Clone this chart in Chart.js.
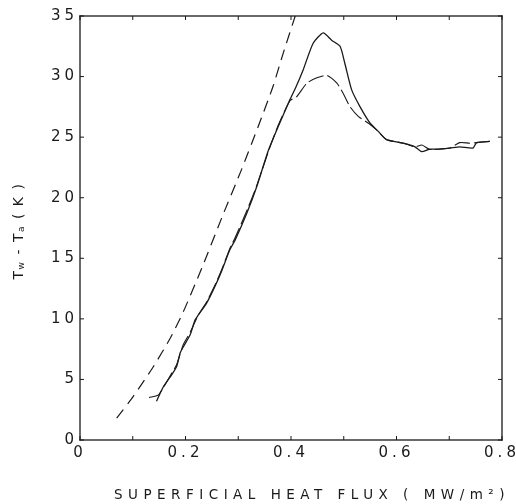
<!DOCTYPE html>
<html>
<head>
<meta charset="utf-8">
<script src="https://cdn.jsdelivr.net/npm/chart.js@4.4.0/dist/chart.umd.min.js"></script>
<style>
  html, body { margin: 0; padding: 0; background: #fff; }
</style>
</head>
<body>
<canvas id="heatChart" width="516" height="504"></canvas>
<script>
// tick labels
const xTickLabels = [0, 0.2, 0.4, 0.6, 0.8];
const yTickLabels = [0, 5, 10, 15, 20, 25, 30, 35];

// model curve (short dashes)
const modelFlux = [0.0695, 0.101, 0.139, 0.171, 0.196, 0.231, 0.272, 0.306, 0.338, 0.366, 0.385, 0.408];
const modelTemp = [1.8, 3.6, 6.05, 8.4, 10.6, 14.2, 18.7, 22.3, 25.9, 29.2, 31.9, 35.0];

// measured, solid line
const solidFlux = [0.145, 0.158, 0.171, 0.183, 0.190, 0.196, 0.209, 0.218, 0.224, 0.240, 0.256, 0.269, 0.284,
  0.294, 0.316, 0.335, 0.357, 0.376, 0.398, 0.410, 0.423, 0.442, 0.461, 0.477, 0.493, 0.502, 0.515, 0.531,
  0.550, 0.565, 0.581, 0.613, 0.635, 0.648, 0.662, 0.676, 0.701, 0.720, 0.745, 0.752, 0.777];
const solidTemp = [3.2, 4.4, 5.2, 6.05, 7.2, 7.7, 8.7, 9.9, 10.3, 11.3, 12.7, 14.0, 15.7,
  16.5, 18.7, 20.9, 23.9, 25.9, 28.1, 29.2, 30.55, 32.75, 33.6, 33.0, 32.5, 31.1, 28.9, 27.5,
  26.15, 25.5, 24.8, 24.5, 24.2, 23.8, 24.0, 24.0, 24.1, 24.2, 24.1, 24.55, 24.65];

// measured, long dashes
const dashFlux = [0.131, 0.148, 0.155, 0.171, 0.183, 0.196, 0.209, 0.224, 0.240, 0.256, 0.269, 0.284,
  0.294, 0.316, 0.335, 0.357, 0.376, 0.398, 0.411, 0.430, 0.449, 0.468, 0.487, 0.499, 0.512, 0.528,
  0.547, 0.562, 0.581, 0.613, 0.635, 0.648, 0.662, 0.676, 0.701, 0.720, 0.739, 0.752, 0.777];
const dashTemp = [3.5, 3.7, 4.1, 5.3, 6.2, 7.9, 8.9, 10.3, 11.4, 12.8, 14.1, 15.8,
  16.7, 18.9, 21.0, 23.8, 26.0, 28.0, 28.35, 29.45, 29.9, 30.1, 29.45, 28.6, 27.5, 26.7,
  26.15, 25.6, 24.8, 24.5, 24.2, 24.35, 24.0, 24.0, 24.1, 24.55, 24.5, 24.55, 24.65];

const ink = '#1a1a1a';

const toPoints = (xs, ys) => xs.map((x, i) => ({ x: x, y: ys[i] }));

// letter spacing for the tick text, like the old lettering
const spacing = {
  id: 'spacing',
  beforeLayout(chart) { chart.ctx.letterSpacing = '4px'; },
  beforeDraw(chart) { chart.ctx.letterSpacing = '4px'; }
};

// box, inward ticks and the two axis titles
const boxPlugin = {
  id: 'boxPlugin',
  afterDraw(chart) {
    const c = chart.ctx;
    const a = chart.chartArea;
    const xs = chart.scales.x;
    const ys = chart.scales.y;
    const lw = 1.3;
    c.save();
    c.fillStyle = ink;
    // frame
    c.fillRect(a.left - lw / 2, a.top - lw / 2, a.right - a.left + lw, lw);
    c.fillRect(a.left - lw / 2, a.bottom - lw / 2, a.right - a.left + lw, lw);
    c.fillRect(a.left - lw / 2, a.top - lw / 2, lw, a.bottom - a.top + lw);
    c.fillRect(a.right - lw / 2, a.top - lw / 2, lw, a.bottom - a.top + lw);
    // inward ticks
    xs.ticks.forEach(t => {
      const px = xs.getPixelForValue(t.value);
      c.fillRect(px - 0.5, a.bottom - 4, 1, 4);
      c.fillRect(px - 0.5, a.top, 1, 4);
    });
    ys.ticks.forEach(t => {
      const py = ys.getPixelForValue(t.value);
      c.fillRect(a.left, py - 0.5, 4, 1);
      c.fillRect(a.right - 4, py - 0.5, 4, 1);
    });

    c.textBaseline = 'middle';

    // x title
    c.letterSpacing = '5.5px';
    c.font = '13.5px "DejaVu Sans"';
    c.textAlign = 'center';
    c.fillText('SUPERFICIAL HEAT FLUX ( MW/m²)', 312, 495);

    // y title with subscripts
    const parts = [
      { t: 'T', size: 14, dy: 0 },
      { t: 'w', size: 9, dy: 3 },
      { t: ' - T', size: 14, dy: 0 },
      { t: 'a', size: 9, dy: 3 },
      { t: ' ( K )', size: 14, dy: 0 }
    ];
    c.letterSpacing = '1.5px';
    c.textAlign = 'left';
    let total = 0;
    parts.forEach(p => {
      c.font = p.size + 'px "DejaVu Sans"';
      p.w = c.measureText(p.t).width;
      total += p.w;
    });
    c.translate(19, 231);
    c.rotate(-Math.PI / 2);
    let cx = -total / 2;
    parts.forEach(p => {
      c.font = p.size + 'px "DejaVu Sans"';
      c.fillText(p.t, cx, p.dy);
      cx += p.w;
    });
    c.restore();
  }
};

const chart = new Chart(document.getElementById('heatChart'), {
  type: 'scatter',
  data: {
    datasets: [
      {
        label: 'model',
        data: toPoints(modelFlux, modelTemp),
        showLine: true,
        borderColor: ink,
        borderWidth: 1.2,
        borderDash: [11, 7],
        pointRadius: 0,
        tension: 0.2
      },
      {
        label: 'measured 1',
        data: toPoints(solidFlux, solidTemp),
        showLine: true,
        borderColor: ink,
        borderWidth: 1.3,
        pointRadius: 0,
        tension: 0.2
      },
      {
        label: 'measured 2',
        data: toPoints(dashFlux, dashTemp),
        showLine: true,
        borderColor: ink,
        borderWidth: 1.1,
        borderDash: [16, 4],
        pointRadius: 0,
        tension: 0.2
      }
    ]
  },
  options: {
    responsive: false,
    animation: false,
    layout: {
      padding: { left: 0, right: 14, top: 16, bottom: 0 }
    },
    plugins: {
      legend: { display: false },
      tooltip: { enabled: false }
    },
    scales: {
      x: {
        type: 'linear',
        min: 0,
        max: 0.8,
        grid: { display: false, drawTicks: false },
        border: { display: false },
        ticks: {
          stepSize: 0.1,
          autoSkip: false,
          maxRotation: 0,
          padding: 4,
          color: ink,
          font: { family: 'DejaVu Sans', size: 15 },
          callback: v => {
            const hit = xTickLabels.find(l => Math.abs(l - v) < 1e-6);
            return hit === undefined ? '' : String(hit);
          }
        },
        afterFit: s => {
          s.height = 64;
          s.paddingLeft = 0;
          s.paddingRight = 0;
        }
      },
      y: {
        min: 0,
        max: 35,
        grid: { display: false, drawTicks: false },
        border: { display: false },
        ticks: {
          stepSize: 5,
          padding: 2,
          color: ink,
          font: { family: 'DejaVu Sans', size: 15 },
          callback: v => (yTickLabels.includes(v) ? String(v) : '')
        },
        afterFit: s => {
          s.width = 80;
          s.paddingTop = 0;
          s.paddingBottom = 0;
        }
      }
    }
  },
  plugins: [spacing, boxPlugin]
});
</script>
</body>
</html>
